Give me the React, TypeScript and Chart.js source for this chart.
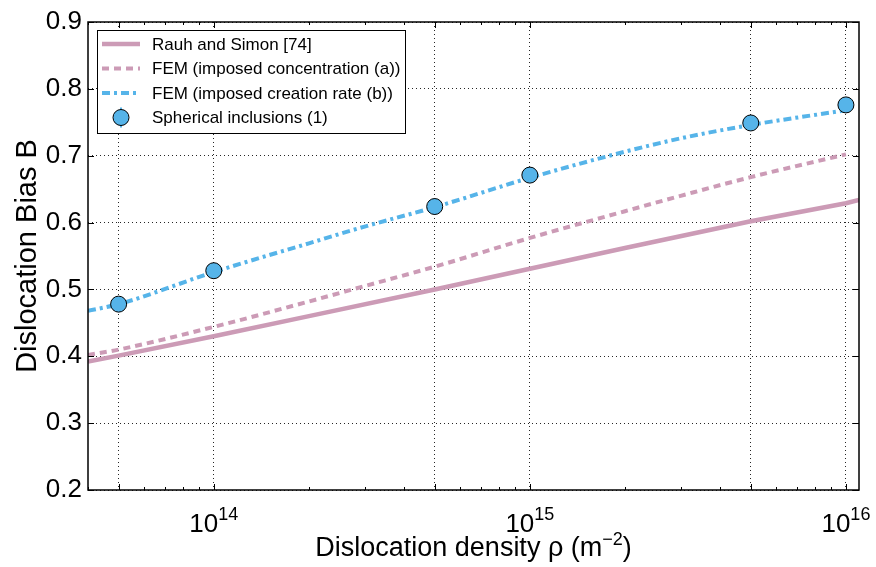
import React, { useEffect, useRef } from 'react';
import { Chart, registerables } from 'chart.js';

Chart.register(...registerables);

// ---------- data ----------
const rauhX = [4e13, 5e13, 1e14, 2e14, 5e14, 1e15, 2e15, 5e15, 1e16, 1.1e16];
const rauhY = [0.392, 0.401, 0.430, 0.460, 0.500, 0.531, 0.562, 0.602, 0.629, 0.634];

const femAX = [4e13, 5e13, 1e14, 2e14, 3e14, 5e14, 1e15, 2e15, 3e15, 5e15, 1e16];
const femAY = [0.402, 0.410, 0.444, 0.482, 0.505, 0.534, 0.577, 0.617, 0.640, 0.668, 0.702];

const femBX = [4e13, 5e13, 1e14, 2e14, 3e14, 5e14, 1e15, 2e15, 3e15, 5e15, 1e16];
const femBY = [0.468, 0.478, 0.526, 0.569, 0.594, 0.623, 0.667, 0.706, 0.726, 0.746, 0.768];

const incX = [5e13, 1e14, 5e14, 1e15, 5e15, 1e16];
const incY = [0.478, 0.528, 0.624, 0.671, 0.749, 0.776];

const seriesLabels = [
  'Rauh and Simon [74]',
  'FEM (imposed concentration (a))',
  'FEM (imposed creation rate (b))',
  'Spherical inclusions (1)',
];

const xGridTicks = [5e13, 1e14, 5e14, 1e15, 5e15, 1e16];
const xLabelExponents = [14, 15, 16];
const xMin = 4e13;
const xMax = 1.1e16;
const yMin = 0.2;
const yMax = 0.9;
const yStep = 0.1;

const xTitleMain = 'Dislocation density ρ (m';
const xTitleSup = '−2';
const xTitleEnd = ')';
const yTitle = 'Dislocation Bias B';

// ---------- styles ----------
const PINK = '#cc9bb6';
const BLUE = '#56b4e9';
const FONT = '"Liberation Sans", Arial, Helvetica, sans-serif';

const toPts = (xs: number[], ys: number[]) => xs.map((x, i) => ({ x, y: ys[i] }));

const overlayPlugin = {
  id: 'overlay',
  afterDraw(chart: any) {
    const { ctx, chartArea: a, scales } = chart;
    const xs = scales.x;
    const ys = scales.y;
    ctx.save();

    // inward ticks
    ctx.strokeStyle = '#000';
    ctx.lineWidth = 1;
    ctx.setLineDash([]);
    ctx.beginPath();
    for (const v of xGridTicks) {
      const px = Math.round(xs.getPixelForValue(v)) + 0.5;
      ctx.moveTo(px, a.bottom);
      ctx.lineTo(px, a.bottom - 6);
      ctx.moveTo(px, a.top);
      ctx.lineTo(px, a.top + 6);
    }
    for (let e = 13; e <= 16; e++) {
      for (let k = 2; k <= 9; k++) {
        const v = k * Math.pow(10, e);
        if (v < xMin || v > xMax) continue;
        if (xGridTicks.some((g) => Math.abs(g - v) / v < 1e-6)) continue;
        const px = Math.round(xs.getPixelForValue(v)) + 0.5;
        ctx.moveTo(px, a.bottom);
        ctx.lineTo(px, a.bottom - 3);
        ctx.moveTo(px, a.top);
        ctx.lineTo(px, a.top + 3);
      }
    }
    for (const t of ys.ticks) {
      const py = Math.round(ys.getPixelForValue(t.value)) + 0.5;
      ctx.moveTo(a.left, py);
      ctx.lineTo(a.left + 6, py);
      ctx.moveTo(a.right, py);
      ctx.lineTo(a.right - 6, py);
    }
    ctx.stroke();

    // frame
    ctx.lineWidth = 1.5;
    ctx.strokeRect(a.left, a.top, a.right - a.left, a.bottom - a.top);

    // x tick labels 10^n
    ctx.fillStyle = '#000';
    ctx.textBaseline = 'alphabetic';
    ctx.textAlign = 'left';
    for (const e of xLabelExponents) {
      const px = xs.getPixelForValue(Math.pow(10, e));
      ctx.font = `26px ${FONT}`;
      const wBase = ctx.measureText('10').width;
      ctx.font = `18px ${FONT}`;
      const wSup = ctx.measureText(String(e)).width;
      const x0 = px - (wBase + wSup) / 2;
      ctx.font = `26px ${FONT}`;
      ctx.fillText('10', x0, a.bottom + 42);
      ctx.font = `18px ${FONT}`;
      ctx.fillText(String(e), x0 + wBase, a.bottom + 30);
    }

    // x title
    {
      ctx.font = `27px ${FONT}`;
      const w1 = ctx.measureText(xTitleMain).width;
      const w3 = ctx.measureText(xTitleEnd).width;
      ctx.font = `18px ${FONT}`;
      const w2 = ctx.measureText(xTitleSup).width;
      const cx = (a.left + a.right) / 2;
      let x = cx - (w1 + w2 + w3) / 2;
      const base = a.bottom + 66;
      ctx.font = `27px ${FONT}`;
      ctx.fillText(xTitleMain, x, base);
      x += w1;
      ctx.font = `18px ${FONT}`;
      ctx.fillText(xTitleSup, x, base - 11);
      x += w2;
      ctx.font = `27px ${FONT}`;
      ctx.fillText(xTitleEnd, x, base);
    }

    // y title
    ctx.save();
    ctx.translate(28, (a.top + a.bottom) / 2);
    ctx.rotate(-Math.PI / 2);
    ctx.font = `29px ${FONT}`;
    ctx.textAlign = 'center';
    ctx.textBaseline = 'middle';
    ctx.fillText(yTitle, 0, 0);
    ctx.restore();

    // legend
    const lx = a.left + 9;
    const ly = a.top + 8;
    const lw = 308;
    const lh = 103;
    ctx.fillStyle = '#fff';
    ctx.fillRect(lx, ly, lw, lh);
    ctx.strokeStyle = '#000';
    ctx.lineWidth = 1;
    ctx.strokeRect(lx + 0.5, ly + 0.5, lw, lh);
    const rowY = (i: number) => ly + 14 + i * 24.5;
    const sx0 = lx + 5;
    const sx1 = lx + 43;
    const styles = [
      { color: PINK, dash: [] as number[], w: 4.5 },
      { color: PINK, dash: [7, 5], w: 4 },
      { color: BLUE, dash: [8, 4, 3, 4], w: 4 },
    ];
    styles.forEach((s, i) => {
      ctx.beginPath();
      ctx.strokeStyle = s.color;
      ctx.lineWidth = s.w;
      ctx.setLineDash(s.dash);
      ctx.moveTo(sx0, rowY(i));
      ctx.lineTo(sx1, rowY(i));
      ctx.stroke();
    });
    ctx.setLineDash([]);
    // errorbar hint + marker
    const mx = (sx0 + sx1) / 2;
    const my = rowY(3);
    ctx.beginPath();
    ctx.strokeStyle = BLUE;
    ctx.lineWidth = 2;
    ctx.moveTo(mx, my - 10);
    ctx.lineTo(mx, my + 10);
    ctx.stroke();
    ctx.beginPath();
    ctx.arc(mx, my, 8, 0, Math.PI * 2);
    ctx.fillStyle = BLUE;
    ctx.fill();
    ctx.strokeStyle = '#000';
    ctx.lineWidth = 1;
    ctx.stroke();

    ctx.fillStyle = '#000';
    ctx.font = `17px ${FONT}`;
    ctx.textAlign = 'left';
    ctx.textBaseline = 'middle';
    seriesLabels.forEach((lab, i) => {
      ctx.fillText(lab, lx + 55, rowY(i) + 1);
    });

    ctx.restore();
  },
};

export default function App() {
  const canvasRef = useRef<HTMLCanvasElement | null>(null);

  useEffect(() => {
    if (!canvasRef.current) return;
    const chart = new Chart(canvasRef.current, {
      type: 'line',
      data: {
        datasets: [
          {
            label: seriesLabels[0],
            data: toPts(rauhX, rauhY),
            borderColor: PINK,
            borderWidth: 4.5,
            pointRadius: 0,
            fill: false,
            tension: 0,
            order: 4,
          },
          {
            label: seriesLabels[1],
            data: toPts(femAX, femAY),
            borderColor: PINK,
            borderWidth: 4,
            borderDash: [7, 5],
            pointRadius: 0,
            fill: false,
            cubicInterpolationMode: 'monotone',
            order: 3,
          },
          {
            label: seriesLabels[2],
            data: toPts(femBX, femBY),
            borderColor: BLUE,
            borderWidth: 4,
            borderDash: [8, 4, 3, 4],
            pointRadius: 0,
            fill: false,
            cubicInterpolationMode: 'monotone',
            order: 2,
          },
          {
            label: seriesLabels[3],
            data: toPts(incX, incY),
            showLine: false,
            pointRadius: 8,
            pointBackgroundColor: BLUE,
            pointBorderColor: '#000',
            pointBorderWidth: 1,
            backgroundColor: BLUE,
            borderColor: '#000',
            order: 1,
          },
        ],
      },
      options: {
        animation: false,
        responsive: true,
        maintainAspectRatio: false,
        layout: { padding: { top: 22, right: 17, bottom: 0, left: 0 } },
        plugins: {
          legend: { display: false },
          tooltip: { enabled: false },
        },
        scales: {
          x: {
            type: 'logarithmic',
            min: xMin,
            max: xMax,
            z: 1,
            afterBuildTicks: (scale: any) => {
              scale.ticks = xGridTicks.map((v) => ({ value: v }));
            },
            afterFit: (scale: any) => {
              scale.height = 77;
            },
            ticks: { display: false },
            grid: {
              color: 'rgba(0,0,0,0.85)',
              lineWidth: 1,
              drawTicks: false,
            },
            border: { display: false, dash: [1, 3] },
          },
          y: {
            type: 'linear',
            min: yMin,
            max: yMax,
            z: 1,
            afterFit: (scale: any) => {
              scale.width = 88;
            },
            ticks: {
              stepSize: yStep,
              padding: 6,
              color: '#000',
              font: { family: FONT, size: 26 },
              callback: (v: any) => Number(v).toFixed(1),
            },
            grid: {
              color: 'rgba(0,0,0,0.85)',
              lineWidth: 1,
              drawTicks: false,
            },
            border: { display: false, dash: [1, 3] },
          },
        },
      },
      plugins: [overlayPlugin],
    } as any);
    return () => chart.destroy();
  }, []);

  return (
    <div style={{ position: 'absolute', left: 0, top: 0, width: 876, height: 567, background: '#fff' }}>
      <canvas ref={canvasRef} />
    </div>
  );
}
